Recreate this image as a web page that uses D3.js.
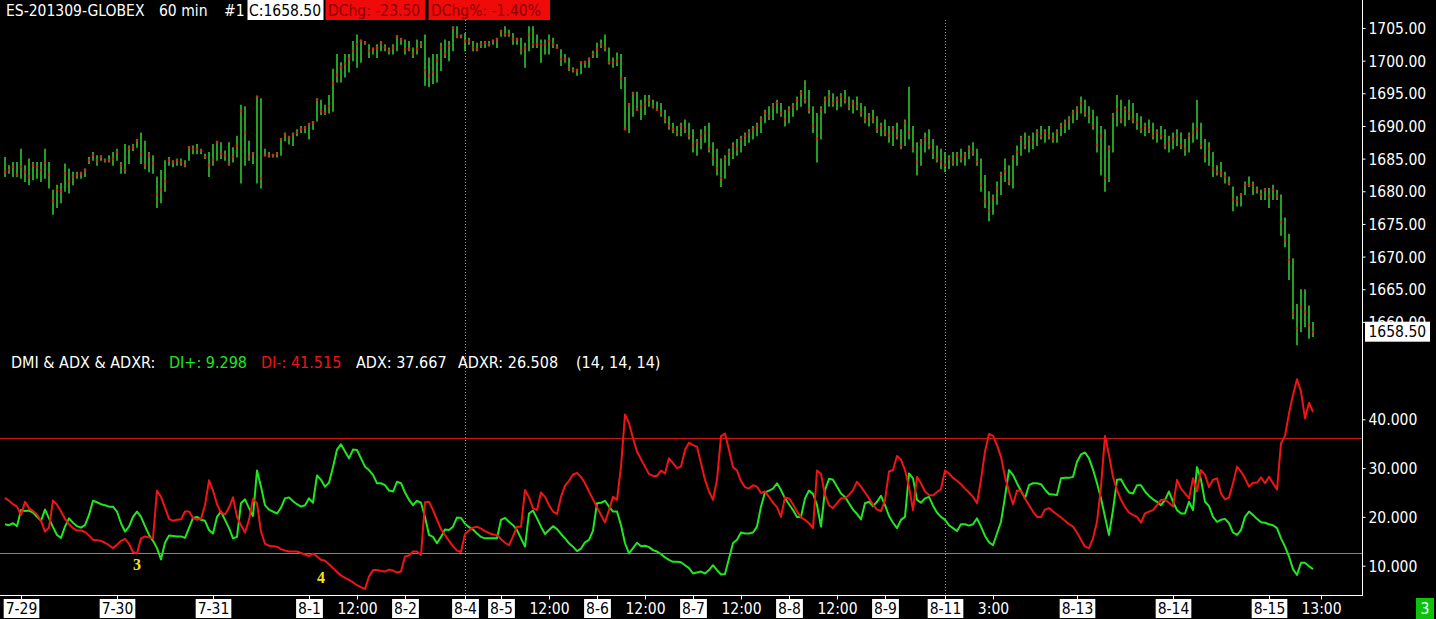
<!DOCTYPE html>
<html><head><meta charset="utf-8">
<script src="https://cdn.jsdelivr.net/npm/d3@7"></script>
<style>
html,body{margin:0;padding:0;background:#000;overflow:hidden}
svg{display:block}
text{font-family:"DejaVu Sans Condensed","DejaVu Sans",sans-serif;font-stretch:condensed}
</style></head><body>
<svg id="c" width="1436" height="619"></svg>
<script>
// ---------- DATA ----------
const high = [1685.25,1684.0,1684.5,1684.5,1686.5,1684.0,1685.0,1684.5,1684.5,1684.5,1686.5,1684.5,1680.25,1681.0,1681.25,1684.25,1683.5,1683.0,1683.0,1683.0,
1683.5,1685.25,1686.0,1685.5,1685.5,1685.0,1685.5,1686.0,1686.5,1684.5,1687.25,1687.0,1687.25,1688.0,1689.0,1687.75,1686.0,1685.5,1682.25,1683.25,
1684.75,1685.25,1684.75,1685.0,1685.0,1684.75,1686.75,1687.0,1687.25,1686.5,1685.75,1686.0,1687.25,1687.75,1687.5,1686.25,1687.5,1686.75,1688.5,1693.25,
1693.0,1687.75,1686.0,1694.5,1694.25,1686.5,1686.0,1685.75,1686.0,1688.0,1689.0,1688.5,1689.0,1689.5,1690.0,1690.0,1690.5,1690.75,1694.25,1694.0,
1693.25,1694.75,1698.75,1701.0,1699.75,1701.0,1701.0,1703.0,1704.0,1703.25,1703.0,1702.5,1702.0,1702.5,1703.0,1702.5,1702.0,1702.5,1703.75,1703.5,
1703.25,1703.0,1702.0,1703.25,1703.0,1704.0,1700.5,1701.0,1701.0,1702.75,1703.25,1703.0,1705.25,1705.25,1704.0,1704.25,1703.5,1703.0,1702.75,1703.0,
1703.0,1703.0,1703.25,1703.5,1704.75,1705.25,1704.75,1704.25,1703.5,1703.5,1702.75,1705.25,1705.25,1704.0,1703.25,1703.25,1704.0,1703.5,1702.5,1701.75,
1701.0,1700.5,1699.0,1698.75,1699.75,1700.0,1700.5,1701.5,1702.75,1703.25,1704.0,1702.0,1700.5,1701.25,1701.0,1697.5,1693.5,1695.25,1695.25,1694.0,
1694.75,1694.75,1694.0,1693.75,1693.5,1692.5,1691.5,1690.5,1690.0,1690.5,1691.0,1690.5,1689.5,1688.0,1689.5,1690.0,1690.5,1687.5,1686.5,1685.0,
1685.5,1686.5,1687.5,1688.0,1688.5,1689.0,1689.5,1690.0,1690.5,1691.5,1692.5,1693.0,1693.5,1694.0,1693.5,1692.5,1693.0,1693.5,1694.5,1695.5,
1697.0,1695.5,1693.0,1692.0,1693.0,1694.5,1695.5,1695.0,1694.5,1695.0,1695.5,1694.5,1694.0,1694.5,1693.5,1693.0,1692.0,1692.5,1691.5,1690.5,
1691.0,1690.0,1690.0,1690.5,1689.5,1691.0,1696.0,1690.0,1687.5,1688.0,1689.0,1689.5,1688.0,1687.0,1686.5,1686.0,1685.5,1686.0,1686.0,1686.5,
1686.0,1687.0,1687.5,1686.5,1685.0,1682.5,1680.0,1679.5,1681.5,1683.0,1685.0,1684.0,1685.5,1687.0,1688.5,1689.0,1688.5,1689.0,1689.5,1690.0,
1689.5,1690.0,1689.0,1689.5,1690.5,1691.0,1691.5,1692.5,1693.0,1694.5,1694.0,1693.0,1692.5,1691.5,1690.0,1689.5,1687.0,1692.0,1694.75,1694.0,
1693.0,1694.0,1693.5,1692.0,1691.5,1690.5,1691.0,1690.5,1689.5,1690.0,1689.5,1688.5,1689.0,1689.5,1689.0,1688.0,1689.0,1690.5,1694.0,1690.5,
1688.0,1687.5,1686.0,1684.0,1684.5,1683.0,1682.25,1680.75,1679.25,1679.75,1681.5,1682.25,1681.5,1680.75,1680.25,1680.5,1680.5,1681.0,1680.25,1679.5,
1676.0,1673.5,1669.75,1662.75,1665.0,1665.0,1662.5,1660.0];
const low = [1682.25,1682.75,1682.25,1682.25,1682.0,1681.5,1681.0,1681.75,1682.0,1681.5,1682.0,1680.5,1676.5,1677.5,1678.25,1680.0,1679.75,1681.0,1682.0,1682.0,
1682.25,1684.25,1684.75,1684.0,1684.75,1684.5,1684.5,1684.0,1684.75,1682.75,1682.75,1684.25,1686.25,1686.75,1684.25,1683.5,1683.0,1682.75,1677.5,1678.25,
1680.0,1684.0,1683.75,1684.0,1684.0,1683.75,1684.75,1685.75,1685.75,1685.75,1685.0,1682.25,1684.0,1684.75,1685.0,1684.75,1684.0,1684.5,1685.25,1681.25,
1684.0,1684.75,1684.25,1681.25,1680.5,1685.5,1685.25,1685.25,1685.25,1685.5,1687.75,1687.25,1687.0,1688.5,1689.0,1689.0,1688.0,1689.5,1690.75,1691.75,
1691.75,1692.0,1692.25,1696.75,1696.75,1697.5,1698.25,1700.0,1699.0,1699.75,1702.5,1700.5,1701.0,1700.5,1701.5,1701.5,1701.0,1701.0,1701.5,1702.5,
1701.0,1701.5,1700.5,1701.0,1702.0,1696.25,1696.0,1696.5,1696.75,1698.5,1700.5,1700.0,1701.5,1703.5,1703.5,1701.5,1702.5,1701.5,1701.5,1702.0,
1702.0,1702.25,1702.5,1702.0,1703.75,1703.75,1703.75,1702.5,1702.5,1701.0,1699.0,1701.5,1702.0,1702.0,1699.75,1701.0,1701.0,1702.0,1702.0,1699.25,
1699.75,1698.5,1698.25,1697.75,1698.0,1699.0,1699.0,1700.5,1700.5,1702.0,1701.5,1699.5,1699.0,1699.25,1695.75,1689.5,1689.0,1691.5,1692.5,1691.0,
1691.75,1693.0,1692.75,1692.5,1691.5,1690.5,1689.5,1689.0,1688.5,1688.5,1689.0,1688.0,1686.0,1685.5,1686.5,1687.5,1686.0,1684.0,1682.5,1680.75,
1682.0,1684.0,1685.0,1685.5,1686.0,1687.0,1687.5,1688.0,1688.5,1689.0,1690.5,1691.0,1691.0,1692.0,1691.5,1690.0,1690.5,1691.5,1692.5,1693.0,
1693.5,1692.0,1689.0,1684.5,1688.0,1692.0,1693.0,1693.0,1692.5,1693.0,1693.5,1692.5,1692.0,1692.5,1691.5,1690.5,1690.0,1690.5,1689.0,1688.5,
1688.5,1687.5,1687.0,1688.0,1686.5,1687.0,1688.0,1686.0,1682.5,1684.0,1686.0,1686.5,1685.0,1684.5,1683.5,1683.0,1683.5,1684.0,1684.0,1684.5,
1684.0,1685.0,1685.5,1684.0,1680.0,1677.5,1675.5,1676.5,1678.0,1679.5,1681.5,1681.0,1680.5,1684.0,1685.5,1686.5,1686.0,1686.5,1687.0,1688.0,
1687.5,1688.0,1687.5,1687.5,1688.5,1689.0,1689.5,1690.5,1691.0,1692.0,1691.5,1690.5,1689.5,1686.0,1682.5,1680.0,1681.5,1686.0,1690.0,1690.5,
1690.0,1691.0,1690.5,1689.5,1689.0,1688.5,1689.0,1688.0,1687.5,1688.0,1686.5,1686.0,1686.5,1687.0,1686.5,1685.5,1686.0,1687.5,1688.0,1686.5,
1684.5,1684.0,1682.25,1682.5,1682.25,1681.25,1681.0,1677.0,1677.75,1677.75,1679.5,1680.75,1679.5,1679.75,1678.75,1678.75,1677.5,1678.75,1678.75,1673.25,
1671.5,1666.5,1660.5,1656.5,1658.5,1659.25,1657.5,1657.75];
const close = [1683.0,1683.25,1683.75,1682.5,1683.75,1683.0,1682.25,1684.0,1683.75,1683.25,1684.5,1682.5,1678.5,1680.25,1680.0,1682.75,1681.5,1682.25,1682.5,1682.75,
1683.25,1684.75,1685.5,1684.75,1685.25,1684.75,1684.75,1685.0,1686.0,1684.0,1683.25,1686.5,1686.75,1687.75,1685.75,1684.0,1685.5,1684.25,1679.5,1680.25,
1681.5,1684.75,1684.5,1684.75,1684.5,1684.0,1686.75,1686.5,1686.5,1686.25,1685.25,1684.0,1684.75,1687.5,1685.75,1685.5,1684.25,1685.25,1687.0,1692.25,
1689.0,1685.25,1685.75,1694.5,1682.0,1685.5,1685.5,1685.5,1685.75,1688.0,1688.75,1688.25,1688.75,1689.0,1689.5,1689.75,1690.25,1690.5,1694.0,1692.25,
1692.0,1693.0,1696.5,1697.75,1699.0,1699.5,1700.25,1701.5,1702.5,1703.0,1702.75,1701.5,1701.75,1702.0,1702.75,1702.0,1701.5,1702.0,1703.75,1703.25,
1701.75,1701.75,1701.0,1701.75,1702.5,1698.5,1697.75,1698.25,1700.0,1702.0,1701.0,1702.25,1705.0,1703.75,1703.75,1703.0,1703.0,1702.0,1701.75,1702.5,
1702.75,1702.5,1703.0,1703.25,1704.5,1704.0,1704.0,1703.25,1703.25,1701.5,1702.0,1704.0,1702.5,1702.5,1702.5,1702.5,1703.0,1702.5,1702.0,1700.25,
1700.25,1698.75,1698.5,1698.5,1699.75,1699.75,1700.25,1701.0,1701.75,1702.5,1702.0,1699.75,1699.75,1700.0,1697.25,1689.5,1693.25,1695.0,1692.5,1693.0,
1693.25,1694.0,1693.0,1692.5,1692.0,1691.0,1690.0,1689.5,1689.0,1690.0,1689.5,1688.5,1687.0,1687.5,1688.5,1689.0,1686.5,1685.0,1683.5,1682.0,
1685.0,1686.0,1687.0,1686.5,1688.0,1688.5,1689.0,1689.5,1690.0,1691.0,1692.0,1691.5,1693.0,1693.5,1692.0,1691.0,1692.5,1693.0,1694.0,1695.0,
1694.0,1692.5,1690.0,1688.0,1692.5,1694.0,1694.5,1693.5,1694.0,1694.5,1694.0,1693.0,1693.5,1693.0,1692.0,1691.0,1691.5,1691.0,1689.5,1690.0,
1689.0,1688.5,1689.5,1688.5,1687.0,1690.5,1689.0,1686.5,1684.5,1687.5,1688.0,1687.0,1686.0,1685.0,1684.5,1684.0,1685.0,1684.5,1685.5,1685.0,
1685.5,1686.5,1686.0,1684.5,1681.0,1678.5,1677.0,1679.0,1680.5,1682.5,1683.0,1681.5,1685.0,1686.0,1688.0,1687.0,1688.0,1687.5,1689.0,1688.5,
1689.0,1688.5,1688.0,1689.0,1690.0,1690.5,1691.0,1692.0,1692.5,1693.5,1692.0,1691.5,1690.0,1687.0,1688.5,1682.0,1686.5,1691.5,1692.5,1691.0,
1692.5,1692.0,1691.0,1690.5,1689.5,1690.0,1689.5,1688.5,1689.0,1688.5,1687.0,1687.5,1688.0,1688.5,1687.0,1686.5,1688.5,1689.0,1689.5,1687.0,
1685.5,1686.5,1683.5,1683.0,1682.75,1682.25,1681.25,1678.75,1678.5,1679.5,1681.0,1681.0,1681.0,1680.25,1679.5,1680.25,1679.25,1680.25,1679.25,1675.25,
1672.5,1669.5,1661.25,1659.0,1662.25,1661.5,1659.5,1658.5];
const diPlus = [18.5,18.3,18.7,18.1,21.4,21.2,21.3,20.9,20.0,19.2,21.5,19.7,17.9,16.3,15.7,18.0,19.7,18.8,18.1,17.8,
18.3,20.4,23.3,23.0,22.6,22.4,22.1,22.1,21.1,18.7,17.0,18.0,20.0,21.1,20.0,18.1,16.3,15.1,13.6,11.3,
14.7,16.2,16.1,16.0,16.0,15.7,17.7,19.8,20.0,19.4,19.2,17.3,16.6,20.0,21.1,19.4,17.7,15.6,15.9,22.8,
23.6,21.8,20.2,29.5,26.2,22.4,21.5,21.1,20.7,21.9,23.8,24.0,23.2,22.6,22.1,22.4,23.8,22.9,28.5,27.6,
26.2,27.0,30.2,33.8,34.9,33.4,32.0,33.8,33.7,32.0,30.3,29.6,28.6,26.9,26.9,26.5,25.4,25.2,27.2,26.9,
25.0,23.5,22.4,23.3,22.9,20.0,16.3,15.9,14.6,15.9,17.4,17.3,18.0,19.9,19.8,18.6,17.9,17.4,16.6,15.9,
15.6,15.6,15.6,15.6,19.4,19.8,19.0,18.3,17.3,15.6,13.9,20.7,21.3,19.7,18.0,16.5,17.3,18.1,17.5,16.5,
15.6,14.6,13.9,13.0,13.5,14.8,15.3,17.2,22.8,22.9,23.3,22.1,21.1,21.1,18.3,14.6,12.5,13.6,14.7,14.0,
14.1,13.8,13.2,12.9,12.4,11.7,11.2,10.8,10.8,10.7,10.1,9.5,8.4,8.6,8.8,8.4,9.1,10.1,9.1,8.2,
8.3,11.5,14.6,15.3,16.8,16.6,16.6,16.8,18.0,22.1,25.0,25.4,25.8,26.9,25.5,23.8,22.6,21.4,20.0,20.0,
23.8,25.4,24.7,22.4,18.0,25.5,27.8,27.6,26.2,24.8,24.1,22.8,21.5,20.6,19.5,22.8,23.1,22.2,23.1,24.3,
22.4,20.2,18.8,17.7,19.4,20.0,28.9,27.9,23.5,22.9,23.8,24.1,22.3,20.9,20.0,19.4,18.3,17.7,17.1,18.5,
18.5,18.2,18.5,19.7,18.0,16.1,14.8,14.2,16.6,19.0,24.1,29.6,28.6,26.9,25.3,23.8,26.5,26.9,26.9,26.7,
25.6,24.7,24.6,24.5,27.9,28.0,28.0,28.2,31.3,32.8,33.2,32.0,29.7,26.9,23.8,20.0,16.3,21.4,27.6,27.7,
26.2,25.0,24.8,26.5,26.5,25.2,24.3,23.6,23.1,22.4,23.5,25.2,23.1,21.4,20.7,20.7,23.1,21.4,30.2,27.6,
23.1,22.2,20.0,19.0,19.4,19.6,18.7,16.8,16.3,17.3,20.0,21.1,20.4,19.6,18.9,18.8,18.5,18.3,17.7,15.6,
13.9,11.9,9.3,8.1,10.6,10.6,9.9,9.3];
const diMinus = [23.9,23.3,22.6,22.1,20.4,23.1,21.8,21.2,20.5,19.2,17.0,17.8,23.4,22.5,21.1,19.6,18.5,17.7,17.2,17.2,
16.9,16.2,15.3,15.2,15.1,14.7,14.2,13.6,14.3,15.1,15.5,14.5,12.8,12.5,15.6,16.0,15.8,15.6,25.4,24.1,
21.9,19.6,19.2,19.4,19.5,21.1,21.1,19.8,19.4,19.6,22.4,27.5,25.4,22.6,20.9,20.5,21.9,24.0,20.0,18.3,
16.8,19.4,23.7,22.8,17.0,14.5,14.1,14.0,13.9,13.4,13.1,12.9,12.9,12.9,12.6,12.3,12.0,12.5,11.9,11.2,
11.0,10.3,9.5,8.7,8.0,7.5,7.1,6.6,6.0,5.6,5.2,7.8,9.1,9.1,8.9,8.8,9.2,9.0,8.6,8.8,
11.9,12.1,12.9,12.9,12.2,23.0,23.1,21.4,19.4,17.5,16.3,15.1,14.0,13.1,12.8,16.5,17.2,17.8,18.0,17.6,
17.1,16.7,16.4,16.3,15.4,14.7,14.2,16.0,18.0,18.0,25.5,24.0,21.8,21.4,25.0,24.1,22.4,21.1,20.6,24.1,
26.4,27.4,28.7,29.0,28.2,26.9,25.2,23.6,22.0,20.4,18.9,21.4,24.1,23.5,30.3,41.0,39.2,36.1,33.4,31.8,
30.3,28.8,28.4,28.4,29.5,28.9,32.0,31.0,30.0,30.3,33.7,35.2,34.7,34.4,31.0,27.6,25.2,23.5,27.6,36.5,
37.1,33.7,30.2,29.5,27.3,26.1,25.8,26.5,26.2,24.9,25.2,24.1,22.9,22.0,20.0,24.0,23.8,22.6,21.1,19.9,
19.4,18.7,17.7,29.5,28.8,24.5,22.4,21.8,22.8,23.8,23.8,24.5,25.5,27.2,26.2,25.0,23.8,22.5,21.5,21.2,
23.5,29.3,29.6,32.5,31.7,29.6,26.2,21.4,28.2,26.9,25.2,24.5,24.4,25.1,25.7,29.5,28.9,28.0,27.4,26.7,
25.8,25.0,24.1,22.8,27.6,33.4,37.0,36.6,34.7,32.3,28.2,25.2,22.6,25.4,25.3,23.8,22.4,21.1,20.0,20.0,
21.5,21.8,21.1,20.5,19.9,19.2,18.5,18.0,16.8,15.3,13.9,13.6,15.6,19.0,26.2,36.6,32.7,28.2,25.5,23.5,
22.0,20.9,20.4,20.0,18.8,20.7,21.1,21.4,22.4,23.5,23.5,22.9,22.1,27.6,25.8,24.8,23.8,27.9,25.2,29.6,
28.6,26.1,27.6,27.9,24.8,23.6,24.0,26.9,30.3,29.3,27.9,26.2,27.0,27.0,28.1,26.9,28.2,26.9,25.6,35.1,
36.6,41.2,45.0,48.2,45.7,40.2,43.4,41.5];
const timeTicks = [[4,"7-29"],[28,"7-30"],[52,"7-31"],[76,"8-1"],[88,"12:00"],[100,"8-2"],[115,"8-4"],[124,"8-5"],[136,"12:00"],[148,"8-6"],[160,"12:00"],
[172,"8-7"],[184,"12:00"],[196,"8-8"],[208,"12:00"],[220,"8-9"],[235,"8-11"],[247,"3:00"],[268,"8-13"],[292,"8-14"],[316,"8-15"],[329,"13:00"]];
const sessionBreaks = [115, 235];
const priceTicks = [1660,1665,1670,1675,1680,1685,1690,1695,1700,1705];
const diTicks = [10,20,30,40];
const diLevels = [36, 12.5];
const marks = [[33,"3",9.2],[79,"4",6.5]];
const header = ["ES-201309-GLOBEX","60 min","#1","C:1658.50","DChg: -23.50","DChg%: -1.40%"];
const legend = ["DMI & ADX & ADXR:","DI+: 9.298","DI-: 41.515","ADX: 37.667","ADXR: 26.508","(14, 14, 14)"];
const lastPrice = "1658.50";

// ---------- CHART ----------
const W = 1436, H = 619, AX = 1362.5, BOT = 595.5;
const svg = d3.select("#c");
svg.append("rect").attr("width",W).attr("height",H).attr("fill","#000");
const FS = "15.5px";

const x = d3.scaleLinear().domain([0, close.length-1]).range([5, 5+4*(close.length-1)]);
const yP = d3.scaleLinear().domain([1660,1705]).range([321.9, 28]);
const yD = d3.scaleLinear().domain([10,40]).range([565.7, 419.3]);

// session separators
sessionBreaks.forEach(i=>{
  svg.append("line").attr("x1",x(i)+0.5).attr("x2",x(i)+0.5).attr("y1",20).attr("y2",BOT)
    .attr("stroke","#9a9a9a").attr("stroke-width",1).attr("stroke-dasharray","1,2");
});

// price bars
const idx = d3.range(close.length);
svg.append("g").selectAll("line").data(idx).join("line")
  .attr("x1",i=>x(i)).attr("x2",i=>x(i))
  .attr("y1",i=>yP(high[i])).attr("y2",i=>yP(low[i])+0.5)
  .attr("stroke","#2fd42f").attr("stroke-width",1.5);
svg.append("g").selectAll("rect").data(idx).join("rect")
  .attr("x",i=>x(i)-1.2).attr("y",i=>yP(close[i])-1.2)
  .attr("width",2.4).attr("height",2.4).attr("fill","#d42a1e");

// DI reference levels
const lvlCol = ["#c81818","#2fbf2f"];
diLevels.forEach((v,k)=>{
  const yy = Math.floor(yD(v))+0.5;
  svg.append("line").attr("x1",0).attr("x2",AX).attr("y1",yy).attr("y2",yy)
    .attr("stroke",lvlCol[k]).attr("stroke-width",1);
});

const lineGen = arr => d3.line().x(i=>x(i)).y(i=>yD(arr[i]))(idx);
svg.append("path").attr("d",lineGen(diPlus)).attr("fill","none").attr("stroke","#22e622").attr("stroke-width",2).attr("stroke-linejoin","round");
svg.append("path").attr("d",lineGen(diMinus)).attr("fill","none").attr("stroke","#f01414").attr("stroke-width",2).attr("stroke-linejoin","round");

// annotations
marks.forEach(([i,t,v])=>{
  svg.append("text").attr("x",x(i)).attr("y",yD(v)).attr("text-anchor","middle")
    .attr("fill","#f2e51a").style("font-family","'Liberation Serif',serif").style("font-weight","bold")
    .style("font-size","16px").text(t);
});

// right axis
svg.append("line").attr("x1",AX).attr("x2",AX).attr("y1",0).attr("y2",BOT).attr("stroke","#fff").attr("stroke-width",1);
const pAxis = svg.append("g").attr("transform",`translate(${AX},0)`)
  .call(d3.axisRight(yP).tickValues(priceTicks).tickSize(3).tickFormat(d3.format(".2f")));
const dAxis = svg.append("g").attr("transform",`translate(${AX},0)`)
  .call(d3.axisRight(yD).tickValues(diTicks).tickSize(3).tickFormat(d3.format(".3f")));
[pAxis,dAxis].forEach(g=>{
  g.select(".domain").remove();
  g.selectAll(".tick line").attr("stroke","#fff");
  g.selectAll(".tick text").attr("fill","#fff").attr("x",6).attr("dy","0.36em")
    .style("font-size",FS).style("font-family","'DejaVu Sans Condensed','DejaVu Sans',sans-serif");
});
// last price box
const lp = svg.append("g");
lp.append("rect").attr("x",AX+2.5).attr("y",yP(1658.5)-10).attr("width",65).attr("height",20).attr("fill","#fff");
lp.append("text").attr("x",AX+6).attr("y",yP(1658.5)).attr("dy","0.36em").attr("fill","#000").style("font-size",FS).text(lastPrice);

// bottom axis
svg.append("line").attr("x1",0).attr("x2",AX+0.5).attr("y1",BOT).attr("y2",BOT).attr("stroke","#fff");
const tg = svg.append("g");
timeTicks.forEach(([i,t])=>{
  const xx = Math.round(x(i))+0.5;
  tg.append("line").attr("x1",xx).attr("x2",xx).attr("y1",BOT).attr("y2",BOT+4).attr("stroke","#fff");
  const isDate = t.indexOf(":")<0;
  const tx = tg.append("text").attr("x",xx).attr("y",614).attr("text-anchor","middle")
    .attr("fill",isDate?"#000":"#fff").style("font-size",FS).text(t);
  if(isDate){
    const w = tx.node().getComputedTextLength();
    tg.insert("rect","text").attr("x",xx-w/2-2).attr("y",599).attr("width",w+4).attr("height",19).attr("fill","#fff");
  }
});
tg.selectAll("text").raise();

// bottom-right box
svg.append("rect").attr("x",1416).attr("y",598).attr("width",18).attr("height",21).attr("fill","#0cc20c");
svg.append("text").attr("x",1425).attr("y",614).attr("text-anchor","middle").attr("fill","#fff").style("font-size",FS).text("3");

// header
const hx = [6,159,224,249,328,431];
const hdr = svg.append("g");
hdr.append("rect").attr("x",247.5).attr("y",0).attr("width",76).attr("height",20).attr("fill","#fff");
hdr.append("rect").attr("x",325.5).attr("y",0).attr("width",99.5).attr("height",20).attr("fill","#f00a0a");
hdr.append("rect").attr("x",428.5).attr("y",0).attr("width",121.5).attr("height",20).attr("fill","#f00a0a");
const hcol = ["#fff","#fff","#fff","#000","#8a0000","#8a0000"];
header.forEach((t,k)=>hdr.append("text").attr("x",hx[k]).attr("y",16).attr("fill",hcol[k]).style("font-size",FS).text(t));

// legend of DMI panel
const lx = [11,169,261,356,458,576];
const lcol = ["#fff","#22e622","#f01414","#fff","#fff","#fff"];
legend.forEach((t,k)=>svg.append("text").attr("x",lx[k]).attr("y",368).attr("fill",lcol[k]).style("font-size","16px").text(t));
</script>
</body></html>
